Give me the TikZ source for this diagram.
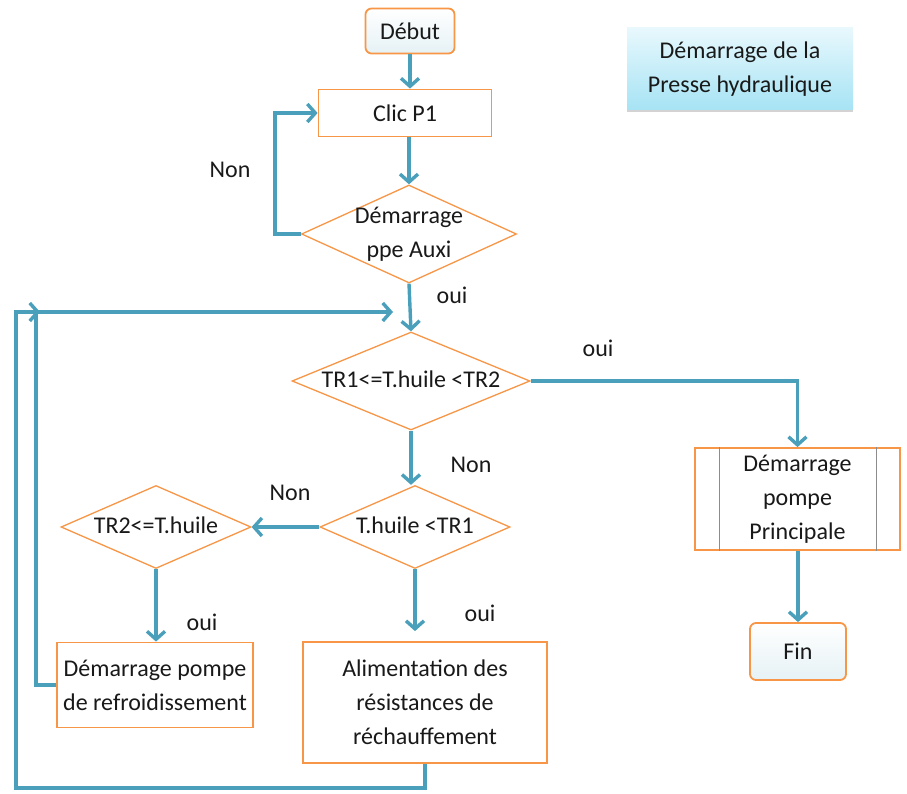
\documentclass[tikz,border=0pt]{standalone}
\usepackage{fontspec}
\setmainfont{Carlito}
\usetikzlibrary{arrows.meta,shapes.geometric,shadows}
\definecolor{flowor}{HTML}{F79646}
\definecolor{flowbl}{HTML}{4A9FBA}
\definecolor{titletop}{HTML}{E8F8FD}
\definecolor{titlebot}{HTML}{A6E3F4}
% text centred in a diamond without enlarging it
\newcommand\dtxt[1]{\makebox[0pt]{\begin{tabular}{@{}c@{}}#1\end{tabular}}}
\begin{document}
\begin{tikzpicture}[x=1pt,y=-1pt,
  every node/.style={font=\fontsize{24}{34}\selectfont, text=black!90},
  term/.style={draw=flowor, line width=1.8pt, rounded corners=6pt,
    top color=white, bottom color=flowbl!14, inner sep=0pt},
  procbox/.style={draw=flowor, line width=1.8pt, fill=white, align=center, inner sep=0pt},
  decision/.style={diamond, draw=flowor, line width=1.3pt, fill=white, inner sep=0pt, aspect=1},
  conn/.style={draw=flowbl, line width=3.4pt, -{Straight Barb[length=8pt,width=18pt]}},
  lbl/.style={inner sep=0pt}]
\useasboundingbox (0,0) rectangle (907,794);

% title
\node[top color=titletop, bottom color=titlebot, align=center, inner sep=0pt,
      minimum width=226pt, minimum height=82pt,
      drop shadow={shadow xshift=0pt, shadow yshift=-2pt, opacity=0.35}]
  (titre) at (740,69) {Démarrage de la\\Presse hydraulique};

% main column
\node[term, minimum width=89pt, minimum height=45pt] (debut) at (410,31) {Début};
\node[procbox, minimum width=173pt, minimum height=47pt] (clic) at (405,113) {Clic P1};
\node[decision, minimum width=215pt, minimum height=98pt] (d1) at (409,234)
  {\dtxt{Démarrage\\ppe  Auxi}};
\node[decision, minimum width=238pt, minimum height=98pt] (d2) at (411,381)
  {\dtxt{TR1<=T.huile <TR2}};
\node[decision, minimum width=190pt, minimum height=83pt] (d3) at (415,527)
  {\dtxt{T.huile <TR1}};
\node[decision, minimum width=190pt, minimum height=83pt] (d4) at (156,527)
  {\dtxt{TR2<=T.huile}};
\node[procbox, minimum width=196pt, minimum height=85pt] (refroid) at (155,685)
  {Démarrage pompe\\de refroidissement};
\node[procbox, minimum width=244pt, minimum height=121pt] (alim) at (425,702.5)
  {Alimentation des\\résistances de\\réchauffement};

% right branch
\node[procbox, minimum width=205pt, minimum height=102pt] (prin) at (797.5,499)
  {Démarrage\\pompe\\Principale};
\draw[black!45, line width=0.8pt] ([xshift=25pt]prin.north west) -- ([xshift=25pt]prin.south west);
\draw[black!45, line width=0.8pt] ([xshift=-25pt]prin.north east) -- ([xshift=-25pt]prin.south east);
\node[term, minimum width=96pt, minimum height=57pt] (fin) at (798,651.5) {Fin};

% branch labels
\node[lbl] (lnon1) at (230,170) {Non};
\node[lbl] (loui1) at (452,295) {oui};
\node[lbl] (loui2) at (598,348) {oui};
\node[lbl] (lnon2) at (471,465) {Non};
\node[lbl] (lnon3) at (290,493) {Non};
\node[lbl] (loui3) at (202,622) {oui};
\node[lbl] (loui4) at (480,613) {oui};

% loop points
\coordinate (merge) at (393,312);
\coordinate (mergeout) at (40,312);

% connectors
\draw[conn] (debut.south) -- (debut.south |- clic.north);
\draw[conn] (d1.north |- clic.south) -- (d1.north);
\draw[conn] (d1.west) -- (275,234) |- (clic.west);
\draw[conn] (d1.south) -- (d2.north);
\draw[conn] (d2.east) -| (prin.north);
\draw[conn] (prin.south -| fin.north) -- (fin.north);
\draw[conn] (d2.south) -- (d2.south |- d3.north);
\draw[conn] (d3.west) -- (d4.east);
\draw[conn] (d4.south) -- (d4.south |- refroid.north);
\draw[conn, shorten >=10pt] (d3.south) -- (d3.south |- alim.north);
\draw[conn] (refroid.west) -- (36,685) -- (36,312) -- (merge);
\draw[conn] (alim.south) -- (425,788) -- (16,788) -- (16,312) -- (mergeout);
\end{tikzpicture}
\end{document}
